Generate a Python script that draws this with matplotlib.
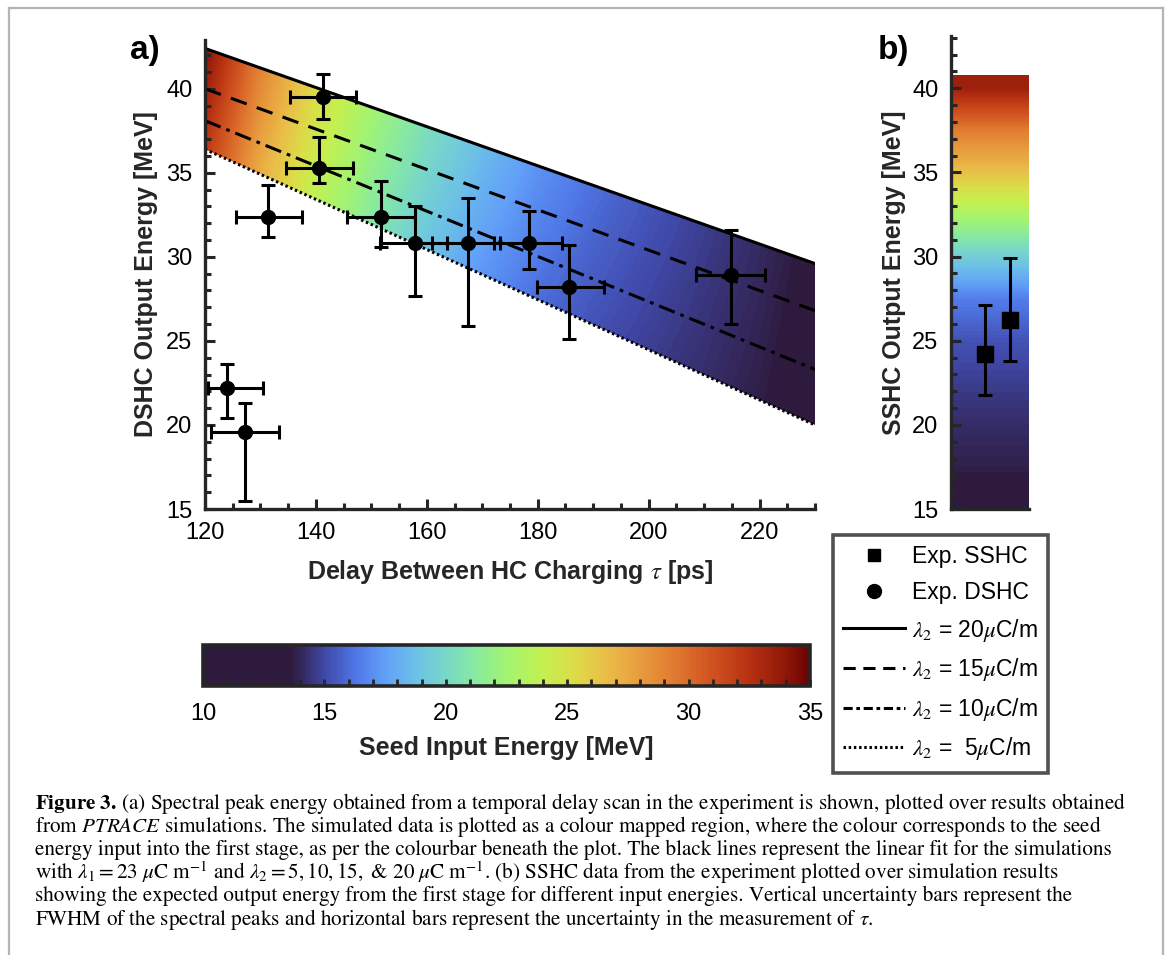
import numpy as np
import matplotlib
matplotlib.use("Agg")
import matplotlib.pyplot as plt
from matplotlib.colors import LinearSegmentedColormap, Normalize
from matplotlib.lines import Line2D
from matplotlib.patches import Rectangle
from matplotlib.ticker import MultipleLocator

plt.rcParams["font.family"] = ["Liberation Sans", "DejaVu Sans"]
plt.rcParams["mathtext.fontset"] = "stix"

# --- data ---
# (a) DSHC experiment
dshc_tau = [124.0, 127.2, 131.4, 141.3, 140.5, 151.7, 157.8, 167.4, 178.4, 185.6, 214.8]
dshc_tau_lo = [120.5, 121.0, 125.6, 135.3, 134.6, 145.6, 151.5, 161.0, 172.2, 179.8, 208.6]
dshc_tau_hi = [130.4, 133.3, 137.5, 147.2, 146.6, 157.8, 163.6, 173.2, 184.3, 191.9, 220.9]
dshc_E = [22.2, 19.6, 32.4, 39.5, 35.3, 32.4, 30.8, 30.8, 30.8, 28.2, 28.9]
dshc_E_lo = [20.4, 15.5, 31.2, 38.2, 34.4, 30.6, 27.7, 25.9, 29.3, 25.1, 26.0]
dshc_E_hi = [23.6, 21.3, 34.3, 40.9, 37.1, 34.5, 33.0, 33.5, 32.7, 30.7, 31.6]

# linear fits of simulations (lambda_2 = 20, 15, 10, 5 uC/m)
fit_tau = [120, 230]
fit_l20 = [42.4, 29.6]
fit_l15 = [40.0, 26.8]
fit_l10 = [38.1, 23.3]
fit_l5 = [36.4, 20.0]

# seed input energy of the simulations on a coarse (tau, E) grid
seed_tau = [120, 130, 140, 150, 160, 170, 180, 190, 200, 210, 220, 230]
seed_E_rows = [20, 43]
seed_low = [26.5, 23.0, 20.5, 18.5, 16.8, 15.6, 15.0, 14.7, 14.4, 14.1, 13.7, 13.1]
seed_high = [34.5, 29.5, 26.0, 23.5, 21.5, 19.8, 18.2, 17.0, 16.1, 15.3, 14.6, 13.9]

# (b) SSHC experiment and single stage simulation
sshc_x = [0.44, 0.76]
sshc_E = [24.2, 26.2]
sshc_E_lo = [21.8, 23.8]
sshc_E_hi = [27.1, 29.9]
single_E = [15, 17.5, 20, 22.5, 25, 27.5, 30, 32.5, 35, 37.5, 40]
single_seed = [13.0, 13.8, 14.2, 14.7, 15.3, 16.5, 19.5, 23.0, 26.5, 29.3, 33.5]
single_E_top = 40.8

# colour map of seed energy
cmap_pos = [10, 13.6, 15, 16.3, 17.5, 18.7, 20, 21.2, 22.5, 24, 25.3, 26.7, 28, 29.5, 31, 32.5, 34, 35]
cmap_col = ["#2e1a3c", "#2e1a3c", "#4048a8", "#5078e8", "#62a0f8", "#6cc0e8", "#78d8c8", "#88eaa0",
            "#a2f472", "#c4f050", "#dcdc48", "#eabc48", "#e89c3e", "#e07830", "#d05220", "#b83212",
            "#901808", "#6a0202"]
vmin, vmax = 10, 35
cmap = LinearSegmentedColormap.from_list(
    "seed", [((p - vmin) / (vmax - vmin), c) for p, c in zip(cmap_pos, cmap_col)])
norm = Normalize(vmin, vmax)

W, H = 1166, 955
fig = plt.figure(figsize=(W / 100, H / 100), dpi=100)
ink = "#262626"


def fx(px):
    return px / W


def fy(py):
    return 1 - py / H


def style_axes(ax):
    for s in ["top", "right"]:
        ax.spines[s].set_visible(False)
    for s in ["left", "bottom"]:
        ax.spines[s].set_linewidth(2.4)
        ax.spines[s].set_color(ink)
    ax.tick_params(which="both", direction="in", color=ink, width=2.2, labelsize=17, pad=9)
    ax.tick_params(which="major", length=7)
    ax.tick_params(which="minor", length=4)


# ---------------- panel a ----------------
ax = fig.add_axes([fx(205), fy(509), fx(610), (509 - 40) / H])
grid = np.array([seed_low, seed_high])
im = ax.imshow(grid, extent=[115, 235, 8.5, 54.5], origin="lower", aspect="auto",
               cmap=cmap, norm=norm, interpolation="bilinear")
band = ax.fill_between(fit_tau, fit_l5, fit_l20, facecolor="none", edgecolor="none")
im.set_clip_path(band.get_paths()[0], transform=ax.transData)

ls_dash = (0, (5.5, 3.5))
ls_dashdot = (0, (5.5, 2, 1.2, 2))
ls_dot = (0, (0.8, 0.9))
ax.plot(fit_tau, fit_l20, color="black", lw=2.2, ls="-")
ax.plot(fit_tau, fit_l15, color="black", lw=2.2, ls=ls_dash)
ax.plot(fit_tau, fit_l10, color="black", lw=2.2, ls=ls_dashdot)
ax.plot(fit_tau, fit_l5, color="black", lw=2.2, ls=ls_dot)

t = np.array(dshc_tau)
e = np.array(dshc_E)
ax.errorbar(t, e,
            xerr=[t - np.array(dshc_tau_lo), np.array(dshc_tau_hi) - t],
            yerr=[e - np.array(dshc_E_lo), np.array(dshc_E_hi) - e],
            fmt="o", color="black", ms=10, elinewidth=2.2, capsize=5, capthick=2.2)

ax.set_xlim(120, 230)
ax.set_ylim(15, 42.9)
ax.xaxis.set_major_locator(MultipleLocator(20))
ax.xaxis.set_minor_locator(MultipleLocator(5))
ax.yaxis.set_major_locator(MultipleLocator(5))
ax.yaxis.set_minor_locator(MultipleLocator(1))
style_axes(ax)
ax.set_xlabel(r"Delay Between HC Charging $\tau$ [ps]", fontsize=18, fontweight="bold", color=ink)
ax.set_ylabel("DSHC Output Energy [MeV]", fontsize=18, fontweight="bold", color=ink)
ax.xaxis.set_label_coords(0.5, (509 - 558) / 469)
ax.yaxis.set_label_coords((158 - 205) / 610, 0.5)
fig.text(fx(145), fy(50), "a)", fontsize=24, fontweight="bold", ha="center", va="center")

# ---------------- panel b ----------------
axb = fig.add_axes([fx(951), fy(509), fx(78), (509 - 36) / H])
col = np.array(single_seed).reshape(-1, 1)
step = single_E[1] - single_E[0]
imb = axb.imshow(col, extent=[0, 1, single_E[0] - step / 2, single_E[-1] + step / 2],
                 origin="lower", aspect="auto", cmap=cmap, norm=norm, interpolation="bilinear")
imb.set_clip_path(Rectangle((0, 15), 1, single_E_top - 15, transform=axb.transData))
xs = np.array(sshc_x)
es = np.array(sshc_E)
axb.errorbar(xs, es, yerr=[es - np.array(sshc_E_lo), np.array(sshc_E_hi) - es],
             fmt="s", color="black", ms=11, elinewidth=2.2, capsize=5, capthick=2.2)
axb.set_xlim(0, 1)
axb.set_ylim(15, 43.1)
axb.set_xticks([])
axb.yaxis.set_major_locator(MultipleLocator(5))
axb.yaxis.set_minor_locator(MultipleLocator(1))
style_axes(axb)
axb.set_ylabel("SSHC Output Energy [MeV]", fontsize=18, fontweight="bold", color=ink)
axb.yaxis.set_label_coords((906 - 951) / 78, 0.5)
fig.text(fx(893), fy(50), "b)", fontsize=24, fontweight="bold", ha="center", va="center")

# ---------------- colour bar ----------------
cax = fig.add_axes([fx(203), fy(686), fx(607), 41 / H])
sm = plt.cm.ScalarMappable(norm=norm, cmap=cmap)
cb = fig.colorbar(sm, cax=cax, orientation="horizontal")
cb.outline.set_linewidth(2.6)
cb.outline.set_edgecolor(ink)
cb.set_ticks([10, 15, 20, 25, 30, 35])
cax.xaxis.set_minor_locator(MultipleLocator(1))
cax.tick_params(which="both", direction="in", length=5, width=2, color=ink, labelsize=17, pad=12)
cb.set_label("Seed Input Energy [MeV]", fontsize=18, fontweight="bold", color=ink, labelpad=8)

# ---------------- legend ----------------
handles = [
    Line2D([], [], ls="none", marker="s", ms=8, color="black"),
    Line2D([], [], ls="none", marker="o", ms=10, color="black"),
    Line2D([], [], color="black", lw=2.2, ls="-"),
    Line2D([], [], color="black", lw=2.2, ls=(0, (4, 2.5))),
    Line2D([], [], color="black", lw=2.2, ls=(0, (3, 1.2, 1.2, 1.2))),
    Line2D([], [], color="black", lw=2.2, ls=ls_dot),
]
labels = ["Exp. SSHC", "Exp. DSHC",
          r"$\lambda_2$ = 20$\mu$C/m", r"$\lambda_2$ = 15$\mu$C/m",
          r"$\lambda_2$ = 10$\mu$C/m", r"$\lambda_2$ =  5$\mu$C/m"]
leg = fig.legend(handles, labels, loc="upper left", bbox_to_anchor=(fx(833), fy(535)),
                 borderaxespad=0, fontsize=16.5, handlelength=2.7, handletextpad=0.3,
                 labelspacing=0.55, fancybox=False, frameon=True, borderpad=0.45)
leg.get_frame().set_edgecolor(ink)
leg.get_frame().set_linewidth(2.6)

# ---------------- caption ----------------
cap_lines = [
    r"$\mathbf{Figure\ 3.}\,$(a) Spectral peak energy obtained from a temporal delay scan in the experiment is shown, plotted over results obtained",
    r"from $\mathit{PTRACE}$ simulations. The simulated data is plotted as a colour mapped region, where the colour corresponds to the seed",
    "energy input into the first stage, as per the colourbar beneath the plot. The black lines represent the linear fit for the simulations",
    r"with $\lambda_1 = 23\ \mu\mathrm{C\ m}^{-1}$ and $\lambda_2 = 5, 10, 15,$ & $20\ \mu\mathrm{C\ m}^{-1}$. (b) SSHC data from the experiment plotted over simulation results",
    "showing the expected output energy from the first stage for different input energies. Vertical uncertainty bars represent the",
    r"FWHM of the spectral peaks and horizontal bars represent the uncertainty in the measurement of $\tau$.",
]
for i, line in enumerate(cap_lines):
    fig.text(fx(35), fy(803 + i * 23.2), line, fontsize=15.2, family="STIXGeneral",
             ha="left", va="center")

# page frame
frame = "#b4b4b4"
fig.add_artist(Line2D([fx(9), fx(9)], [0, fy(8)], color=frame, lw=1.6))
fig.add_artist(Line2D([fx(9), fx(1163)], [fy(8), fy(8)], color=frame, lw=1.6))
fig.add_artist(Line2D([fx(1163), fx(1163)], [0, fy(8)], color=frame, lw=1.6))

fig.savefig("out.png", dpi=100)
